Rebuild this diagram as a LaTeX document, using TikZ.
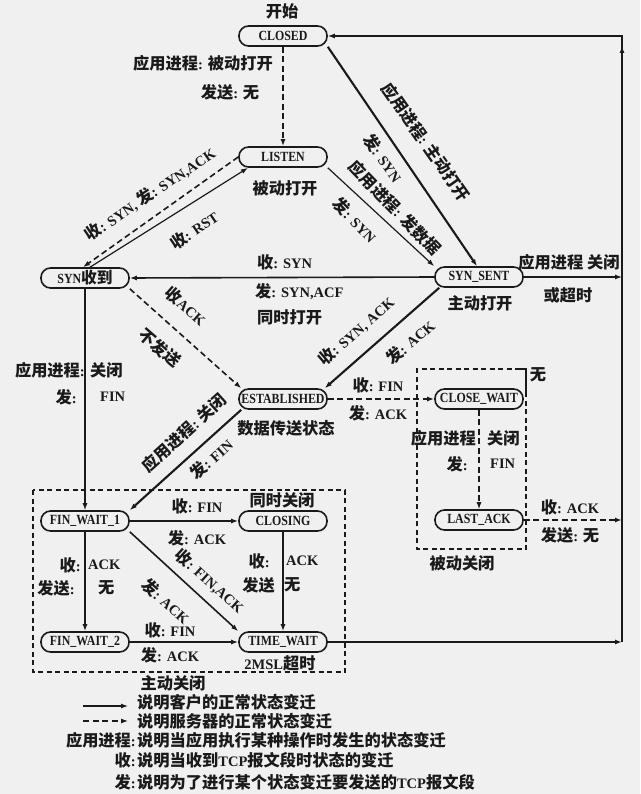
\documentclass[tikz,border=0pt]{standalone}
\usepackage{fontspec}
\usepackage{graphicx}
\setmainfont{Liberation Serif}
\newfontfamily\cjkfont{Noto Sans CJK SC}[Scale=1.12]
\newfontfamily\statefont{Liberation Serif}[FakeStretch=0.85]
\def\latinfont{\rmfamily}
\XeTeXinterchartokenstate=1
\newXeTeXintercharclass\CJKcls
\newcount\tmpc
\tmpc="3000
\loop\ifnum\tmpc<"A000 \XeTeXcharclass\tmpc=\CJKcls \advance\tmpc by 1 \repeat
\tmpc="FF00
\loop\ifnum\tmpc<"FFF0 \XeTeXcharclass\tmpc=\CJKcls \advance\tmpc by 1 \repeat
\XeTeXinterchartoks 0 \CJKcls = {\cjkfont}
\XeTeXinterchartoks 4095 \CJKcls = {\cjkfont}
\XeTeXinterchartoks \CJKcls 0 = {\latinfont}
\XeTeXinterchartoks \CJKcls 4095 = {\latinfont}
\usetikzlibrary{arrows.meta}
\definecolor{ink}{HTML}{1A1A1A}
\definecolor{paper}{HTML}{F0F0F0}
\tikzset{
  state/.style={draw=ink, line width=1.6pt, rounded corners=9.5pt, minimum width=88pt,
    minimum height=20pt, inner sep=1pt, text=ink,
    font={\fontsize{14}{15}\selectfont\statefont\bfseries\def\latinfont{\statefont}}},
  lbl/.style={font=\fontsize{14.5}{16}\selectfont\bfseries, text=ink, inner sep=1pt},
  cli/.style={draw=ink, line width=1.6pt, -{Latex[length=7pt,width=5pt]}},
  srv/.style={cli, dash pattern=on 6pt off 3.5pt},
  lite/.style={line width=1.2pt},
  heavy/.style={line width=2.1pt},
  grp/.style={draw=ink, line width=1.4pt, dash pattern=on 5pt off 3.5pt},
}
\begin{document}
\begin{tikzpicture}[x=1pt,y=-1pt]
\fill[paper] (0,0) rectangle (640,794);
\useasboundingbox (0,0) rectangle (640,794);

% states
\node[state] (CLOSED)    at (283,36)  {CLOSED};
\node[state] (LISTEN)    at (283,157) {LISTEN};
\node[state] (SYNRCVD)   at (85,278)  {SYN收到};
\node[state] (SYNSENT)   at (479,277) {SYN\_SENT};
\node[state] (EST)       at (283,399) {ESTABLISHED};
\node[state] (CLOSEWAIT) at (479,399) {CLOSE\_WAIT};
\node[state] (LASTACK)   at (479,520) {LAST\_ACK};
\node[state] (FW1)       at (85,521)  {FIN\_WAIT\_1};
\node[state] (CLOSING)   at (283,521) {CLOSING};
\node[state] (FW2)       at (85,642)  {FIN\_WAIT\_2};
\node[state] (TIMEWAIT)  at (283,642) {TIME\_WAIT};

\coordinate (R1) at (622,277);
\coordinate (R2) at (622,520);
\coordinate (R3) at (622,642);
\coordinate (RT) at (622,36);
\coordinate (RA) at (622,70);
\coordinate (RB) at (622,46);

% groups
\draw[grp] (33,490) rectangle (345,672);
\draw[grp] (526,392) -- (526,549) -- (417,549) -- (417,369) -- (520,369);
\draw[draw=ink, line width=1.4pt] (519,369) -- (526,369) -- (526,393);

% connectors
\draw[srv] (CLOSED.south) -- (LISTEN.north);
\draw[cli,heavy] (CLOSED.south east) -- ([xshift=-2pt]SYNSENT.north);
\draw[srv] (LISTEN.west) -- ([xshift=-2pt]SYNRCVD.north);
\draw[cli,lite] ([xshift=5pt]SYNRCVD.north) -- ([xshift=-35pt]LISTEN.south);
\draw[cli,lite] (LISTEN.south east) -- (SYNSENT.north west);
\draw[cli] (SYNSENT.west) -- (SYNRCVD.east);
\draw[srv] (SYNRCVD.south east) -- ([xshift=3pt]EST.north west);
\draw[cli,heavy] ([xshift=5pt]SYNSENT.south west) -- ([xshift=-3pt]EST.north east);
\draw[cli,lite] (SYNRCVD.south) -- (FW1.north);
\draw[cli,lite] (SYNSENT.east) -- (R1);
\draw[srv] (EST.east) -- (CLOSEWAIT.west);
\draw[cli,heavy] ([xshift=3pt]EST.south west) -- (FW1.north east);
\draw[srv,lite] (CLOSEWAIT.south) -- (LASTACK.north);
\draw[srv] (LASTACK.east) -- (R2);
\draw[cli] (FW1.east) -- (CLOSING.west);
\draw[cli] (FW1.south) -- (FW2.north);
\draw[cli] (FW1.south east) -- (TIMEWAIT.north west);
\draw[cli] (CLOSING.south) -- (TIMEWAIT.north);
\draw[cli,heavy] (FW2.east) -- (TIMEWAIT.west);
\draw[cli,heavy] (TIMEWAIT.east) -- (R3);
\draw[cli,lite] (R3) -- (RT) -- (CLOSED.east);
\draw[cli,lite] (RA) -- (RB);

% labels
\node[lbl] (t0) at (282,11) {开始};
\node[lbl] (t1) at (203,63) {应用进程: 被动打开};
\node[lbl] (t2) at (230,92) {发送: 无};
\node[lbl] (t3) at (285,188) {被动打开};
\node[lbl,rotate=34] (t4) at (150,194) {收: SYN, 发: SYN,ACK};
\node[lbl,rotate=34] (t5) at (194,230) {收: RST};
\node[lbl,rotate=-55] (t6) at (426,142) {应用进程: 主动打开};
\node[lbl,rotate=-55] (t7) at (383,158) {发: SYN};
\node[lbl,rotate=-46] (t8) at (395,208) {应用进程: 发数据};
\node[lbl,rotate=-46] (t9) at (355,220) {发: SYN};
\node[lbl,anchor=west] (t10) at (256,262) {收: SYN};
\node[lbl,anchor=west] (t11) at (254,292) {发: SYN,ACF};
\node[lbl,anchor=west] (t12) at (256,317) {同时打开};
\node[lbl] (t13) at (480,303) {主动打开};
\node[lbl] (t14) at (569,262) {应用进程 关闭};
\node[lbl] (t15) at (568,295) {或超时};
\node[lbl,rotate=-41] (t16) at (186,306) {收ACK};
\node[lbl,rotate=-41] (t17) at (160,348) {不发送};
\node[lbl,anchor=east] (t18) at (86,370) {应用进程:};
\node[lbl,anchor=west] (t19) at (89,370) {关闭};
\node[lbl,anchor=east] (t20) at (78,397) {发:};
\node[lbl,anchor=west] (t21) at (99,397) {FIN};
\node[lbl,rotate=41] (t22) at (356,331) {收: SYN, ACK};
\node[lbl,rotate=41] (t23) at (410,342) {发: ACK};
\node[lbl] (t24) at (286,428) {数据传送状态};
\node[lbl] (t25) at (378,385) {收: FIN};
\node[lbl] (t26) at (378,413) {发: ACK};
\node[lbl] (t27) at (538,375) {无};
\node[lbl,anchor=east] (t28) at (477,438) {应用进程};
\node[lbl,anchor=west] (t29) at (486,438) {关闭};
\node[lbl,anchor=east] (t30) at (469,464) {发:};
\node[lbl,anchor=west] (t31) at (489,464) {FIN};
\node[lbl] (t32) at (462,563) {被动关闭};
\node[lbl] (t33) at (570,507) {收: ACK};
\node[lbl] (t34) at (570,535) {发送: 无};
\node[lbl,rotate=42] (t35) at (184,433) {应用进程: 关闭};
\node[lbl,rotate=42] (t36) at (211,459) {发: FIN};
\node[lbl] (t37) at (282,500) {同时关闭};
\node[lbl] (t38) at (197,506) {收: FIN};
\node[lbl] (t39) at (197,538) {发: ACK};
\node[lbl,anchor=east] (t40) at (82,565) {收:};
\node[lbl,anchor=west] (t41) at (87,565) {ACK};
\node[lbl,anchor=east] (t42) at (76,588) {发送:};
\node[lbl,anchor=west] (t43) at (97,588) {无};
\node[lbl,anchor=east] (t44) at (271,561) {收:};
\node[lbl,anchor=west] (t45) at (285,561) {ACK};
\node[lbl,anchor=east] (t46) at (276,585) {发送};
\node[lbl,anchor=west] (t47) at (283,585) {无};
\node[lbl,rotate=-42] (t48) at (210,581) {收: FIN,ACK};
\node[lbl,rotate=-42] (t49) at (166,601) {发: ACK};
\node[lbl] (t50) at (170,630) {收: FIN};
\node[lbl] (t51) at (170,655) {发: ACK};
\node[lbl] (t52) at (280,663) {2MSL超时};
\node[lbl] (t53) at (173,683) {主动关闭};

% legend
\coordinate (L1a) at (83,706);
\coordinate (L1b) at (128,706);
\coordinate (L2a) at (83,721);
\coordinate (L2b) at (128,721);
\draw[cli,lite] (L1a) -- (L1b);
\draw[srv,lite] (L2a) -- (L2b);
\node[lbl,anchor=west] (g1) at (136,702) {说明客户的正常状态变迁};
\node[lbl,anchor=west] (g2) at (136,721) {说明服务器的正常状态变迁};
\node[lbl,anchor=east] (g3) at (137,740) {应用进程:};
\node[lbl,anchor=west] (g4) at (136,740) {说明当应用执行某种操作时发生的状态变迁};
\node[lbl,anchor=east] (g5) at (137,760) {收:};
\node[lbl,anchor=west] (g6) at (136,760) {说明当收到TCP报文段时状态的变迁};
\node[lbl,anchor=east] (g7) at (137,782) {发:};
\node[lbl,anchor=west] (g8) at (136,782) {说明为了进行某个状态变迁要发送的TCP报文段};
\end{tikzpicture}
\end{document}
